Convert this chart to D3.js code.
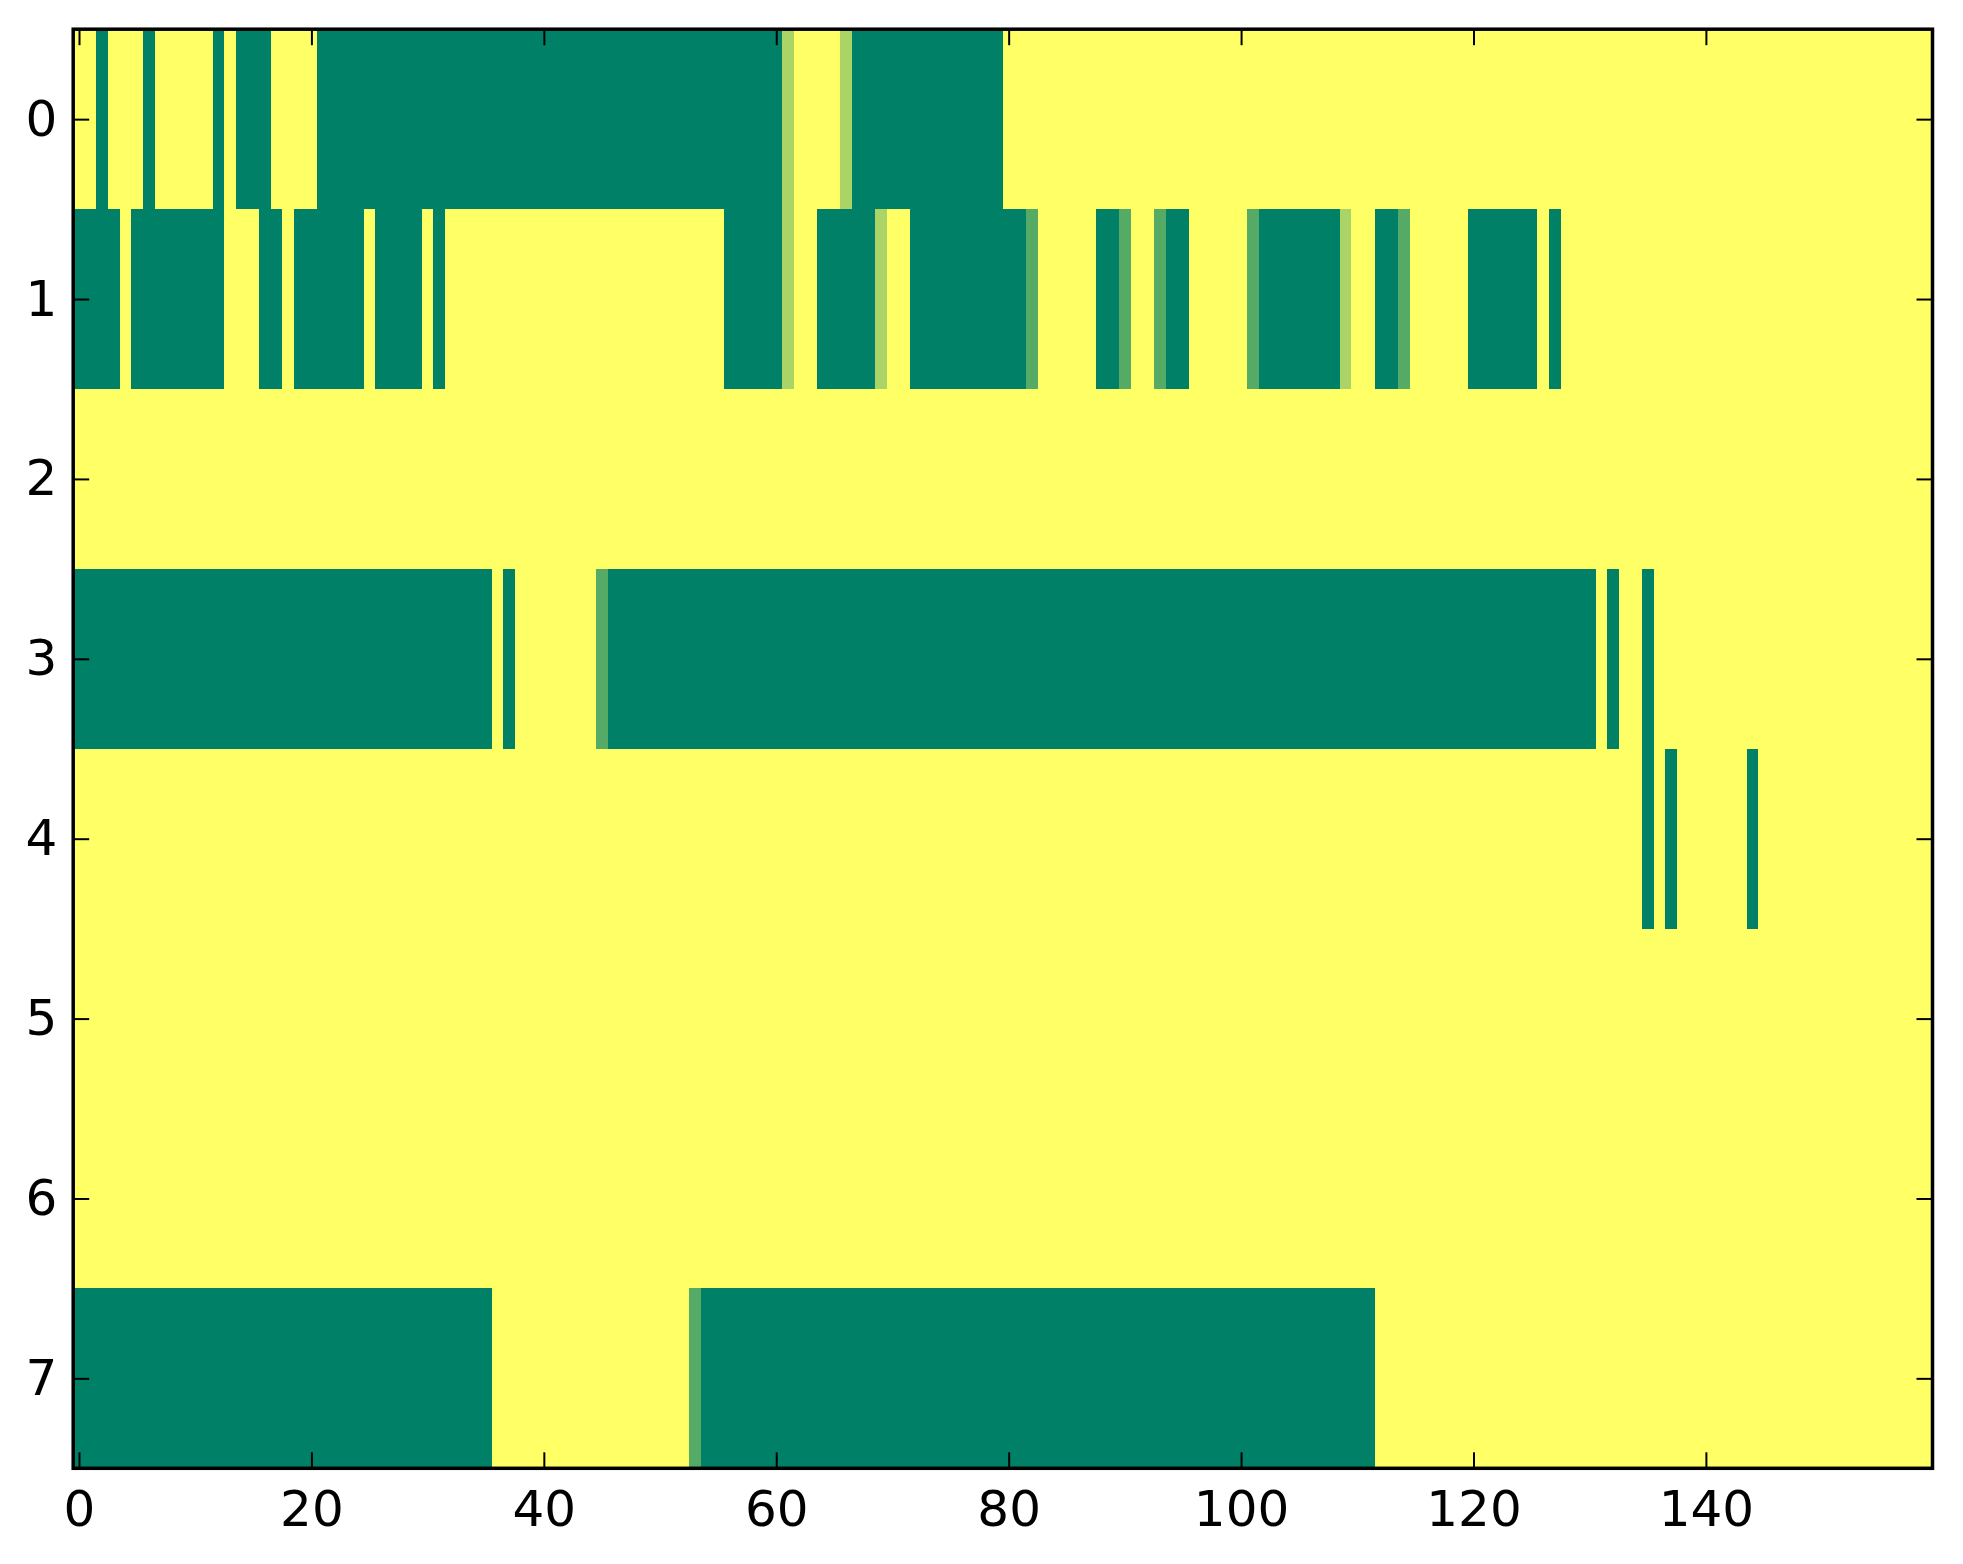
<!DOCTYPE html>
<html>
<head>
<meta charset="utf-8">
<script src="https://cdn.jsdelivr.net/npm/d3@7"></script>
<style>
  html, body { margin: 0; padding: 0; background: #ffffff; }
  svg { display: block; }
</style>
</head>
<body>
<svg id="chart" width="1963" height="1564"></svg>
<script>
// Values: 0 = dark green, 1/3, 2/3, 1 = yellow (matplotlib "summer" colormap)
// Each row is given as runs of [value code, run length]; code c means value c/3.
const nCols = 160;
const rowLabels = [0, 1, 2, 3, 4, 5, 6, 7];
const xTickValues = [0, 20, 40, 60, 80, 100, 120, 140];

const row0 = [[3,2],[0,1],[3,3],[0,1],[3,5],[0,1],[3,1],[0,3],[3,4],[0,40],[2,1],[3,4],[2,1],[0,13],[3,80]];
const row1 = [[0,4],[3,1],[0,8],[3,3],[0,2],[3,1],[0,6],[3,1],[0,4],[3,1],[0,1],[3,24],
              [0,5],[2,1],[3,2],[0,5],[2,1],[3,2],[0,10],[1,1],[3,5],[0,2],[1,1],[3,2],[1,1],[0,2],
              [3,5],[1,1],[0,7],[2,1],[3,2],[0,2],[1,1],[3,5],[0,6],[3,1],[0,1],[3,32]];
const row2 = [[3,160]];
const row3 = [[0,36],[3,1],[0,1],[3,7],[1,1],[0,85],[3,1],[0,1],[3,2],[0,1],[3,24]];
const row4 = [[3,135],[0,1],[3,1],[0,1],[3,6],[0,1],[3,15]];
const row5 = [[3,160]];
const row6 = [[3,160]];
const row7 = [[0,36],[3,17],[1,1],[0,58],[3,48]];
const rowRuns = [row0, row1, row2, row3, row4, row5, row6, row7];

// Expand runs to cells
const cells = [];
rowRuns.forEach((runs, r) => {
  let c = 0;
  runs.forEach(([code, len]) => {
    for (let k = 0; k < len; k++) {
      cells.push({ row: r, col: c, value: code / 3 });
      c++;
    }
  });
  if (c !== nCols) console.warn("row", r, "has", c, "cols");
});

const svg = d3.select("#chart");
const L = 73.2, R = 1932.5, T = 29.2, B = 1468.3;

const x = d3.scaleLinear().domain([-0.5, nCols - 0.5]).range([L, R]);
const y = d3.scaleLinear().domain([-0.5, rowLabels.length - 0.5]).range([T, B]);
const color = d3.scaleLinear().domain([0, 1]).range(["#008066", "#ffff66"]);

svg.append("g")
  .selectAll("rect")
  .data(cells)
  .join("rect")
  .attr("x", d => x(d.col - 0.5))
  .attr("y", d => y(d.row - 0.5))
  .attr("width", d => x(d.col + 0.5) - x(d.col - 0.5) + 0.4)
  .attr("height", d => y(d.row + 0.5) - y(d.row - 0.5) + 0.4)
  .attr("fill", d => color(d.value))
  .attr("shape-rendering", "crispEdges");

const tickLen = 16;
const fontFam = "'DejaVu Sans', sans-serif";

function styleAxis(g) {
  g.attr("font-family", fontFam).attr("font-size", 50);
  g.select(".domain").remove();
  g.selectAll(".tick line").attr("stroke", "#000").attr("stroke-width", 2);
  g.selectAll(".tick text").attr("fill", "#000");
}

// Bottom
svg.append("g")
  .attr("transform", `translate(0,${B})`)
  .call(d3.axisBottom(x).tickValues(xTickValues).tickFormat(d3.format("d"))
        .tickSizeInner(-tickLen).tickSizeOuter(0).tickPadding(22))
  .call(styleAxis);
// Top
svg.append("g")
  .attr("transform", `translate(0,${T})`)
  .call(d3.axisTop(x).tickValues(xTickValues).tickFormat("")
        .tickSizeInner(-tickLen).tickSizeOuter(0))
  .call(styleAxis);
// Left
svg.append("g")
  .attr("transform", `translate(${L},0)`)
  .call(d3.axisLeft(y).tickValues(rowLabels).tickFormat(d3.format("d"))
        .tickSizeInner(-tickLen).tickSizeOuter(0).tickPadding(16))
  .call(styleAxis);
// Right
svg.append("g")
  .attr("transform", `translate(${R},0)`)
  .call(d3.axisRight(y).tickValues(rowLabels).tickFormat("")
        .tickSizeInner(-tickLen).tickSizeOuter(0))
  .call(styleAxis);

// Frame
svg.append("rect")
  .attr("x", L).attr("y", T)
  .attr("width", R - L).attr("height", B - T)
  .attr("fill", "none")
  .attr("stroke", "#000")
  .attr("stroke-width", 3.5);
</script>
</body>
</html>
